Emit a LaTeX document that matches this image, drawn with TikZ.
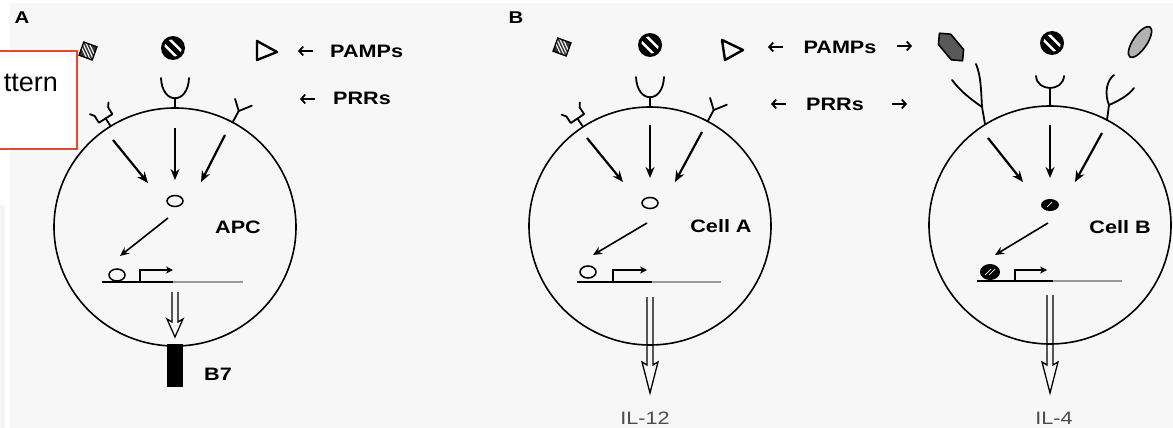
\documentclass[tikz,border=0pt]{standalone}
\usepackage{fontspec}
\setmainfont{Liberation Sans}
\newfontfamily\labfont[FakeStretch=1.2]{Liberation Sans}
\usetikzlibrary{arrows.meta}
\definecolor{bg}{HTML}{F7F7F7}
\definecolor{boxred}{HTML}{E8452C}

\tikzset{
  lab/.style={font=\labfont\bfseries\fontsize{18}{20}\selectfont, inner sep=0pt},
  letter/.style={font=\labfont\bfseries\fontsize{17}{19}\selectfont, inner sep=0pt},
  cyto/.style={font=\labfont\fontsize{18}{20}\selectfont, text=black!70, inner sep=0pt},
  pointer/.style={line width=1.8pt, -{Straight Barb[length=4pt,width=9pt]}},
  cellwall/.style={line width=1.6pt},
  sig/.style={line width=2.2pt, -{Stealth[length=11pt,width=9pt]}},
  sigthin/.style={line width=1.6pt, -{Stealth[length=9pt,width=8pt]}},
  receptor/.style={line width=1.8pt, line cap=round, line join=round},
  dna/.style={line width=2.2pt},
  tf/.style={line width=1.5pt, fill=bg},
  hollow/.style={line width=1.3pt, line join=miter},
  bent/.style={line width=1.6pt, -{Stealth[length=7pt,width=7pt]}},
  hatchsq/.pic={
    \fill[black!80] (-7,-7) rectangle (7,7);
    \begin{scope}
      \clip (-7,-7) rectangle (7,7);
      \foreach \k in {-6,-2,2,6} \draw[white, line width=1.1pt] (\k-10,-10) -- (\k+10,10);
    \end{scope}
    \draw[line width=1.3pt] (-7,-7) rectangle (7,7);
  },
  stripeball/.pic={
    \fill (0,0) circle (12pt);
    \begin{scope}
      \clip (0,0) circle (8.8pt);
      \draw[white, line width=2.4pt] (-11,-16.4) -- (16.4,11);
      \draw[white, line width=2.4pt] (-16.4,-11) -- (11,16.4);
    \end{scope}
  },
  rfork/.pic={
    \draw[receptor] (0,0) -- (0,-9);
    \draw[receptor] (-11,-21) -- (-8,-17) -- (-8,-9) -- (8,-9) -- (8,-17) -- (11,-21);
  },
  ry/.pic={
    \draw[receptor] (0,0) -- (0,-13) -- (-9,-22);
    \draw[receptor] (0,-13) -- (9,-24);
  },
  rcup/.pic={
    \draw[receptor] (0,0) -- (0,-10);
    \draw[receptor] (-14,-30) .. controls (-13,-3) and (13,-3) .. (14,-30);
  },
}

\begin{document}
\begin{tikzpicture}[x=1pt,y=-1pt]
\useasboundingbox (0,0) rectangle (1173,428);
% page and figure backgrounds
\fill[white] (0,0) rectangle (1173,428);
\fill[bg] (10,3) rectangle (1173,428);
\fill[black!4] (0,205) rectangle (5,428);

% callout box in the upper left corner
\draw[boxred, fill=white, line width=1.4pt] (-3,51) rectangle (77,149);
\node[anchor=base east, inner sep=0pt, font=\fontsize{27}{30}\selectfont] (note) at (58,92) {ttern};

% ================= Panel A =================
\node[letter] (labA) at (22,18) {A};
\pic[rotate=-20] at (88,51) {hatchsq};
\pic at (173,48) {stripeball};
\draw[line width=2.4pt, line join=round] (257,41) -- (257,60) -- (277,52) -- cycle;
\node[lab, anchor=west] (aPAMP) at (330,51) {PAMPs};
\coordinate (aPAMPt) at (313,51);
\draw[pointer] (aPAMPt) -- ++(-15,0) coordinate (aPAMPh);
\node[lab, anchor=west] (aPRR) at (333,98) {PRRs};
\coordinate (aPRRt) at (315,99);
\draw[pointer] (aPRRt) -- ++(-15,0) coordinate (aPRRh);

\begin{scope}[shift={(175,227)}]
  \coordinate (ac) at (0,0);
  \pic[rotate=32.5] at (-64.5,-101) {rfork};
  \pic at (0,-119) {rcup};
  \pic[rotate=-28.5] at (57.5,-104.5) {ry};
  % signalling
  \coordinate (a1s) at (-62,-87); \coordinate (a1e) at (-27,-44);
  \coordinate (a2s) at (0,-99);   \coordinate (a2e) at (0,-47);
  \coordinate (a3s) at (50,-92);  \coordinate (a3e) at (26,-45);
  \draw[sig] (a1s) -- (a1e);
  \draw[sig] (a2s) -- (a2e);
  \draw[sig] (a3s) -- (a3e);
  \coordinate (atf) at (0,-26);
  \draw[tf] (atf) ellipse [x radius=8pt, y radius=5.5pt];
  \coordinate (ats) at (-7,-9); \coordinate (ate) at (-55,29);
  \draw[sigthin] (ats) -- (ate);
  % gene
  \coordinate (ad1) at (-73,55); \coordinate (ad2) at (-2,55); \coordinate (ad3) at (68,55);
  \draw[dna] (ad1) -- (ad2);
  \draw[dna, black!40] (ad2) -- (ad3);
  \coordinate (adtf) at (-58,48);
  \draw[tf] (adtf) ellipse [x radius=8pt, y radius=6pt];
  \coordinate (ap1) at (-35,55); \coordinate (ap2) at (-35,43); \coordinate (ap3) at (-2,43);
  \draw[bent] (ap1) -- (ap2) -- (ap3);
  % expression
  \draw[hollow] (-3,65) -- (-3,95) -- (-8,92) -- (0,110) -- (8,92) -- (3,95) -- (3,65);
  \draw[cellwall] (ac) ellipse [x radius=121pt, y radius=119pt];
  \fill (-8,117) rectangle (8,160);
\end{scope}
\node[lab] (apc) at (238,227) {APC};
\node[lab, anchor=west] (b7) at (204,374) {B7};

% ================= Panel B =================
\node[letter] (labB) at (516,18) {B};
\node[lab] (bPAMP) at (840,47) {PAMPs};
\coordinate (bPAMPlt) at (783,47);
\draw[pointer] (bPAMPlt) -- ++(-15,0) coordinate (bPAMPlh);
\coordinate (bPAMPrt) at (897,46);
\draw[pointer] (bPAMPrt) -- ++(15,0) coordinate (bPAMPrh);
\node[lab] (bPRR) at (835,104) {PRRs};
\coordinate (bPRRlt) at (786,104);
\draw[pointer] (bPRRlt) -- ++(-15,0) coordinate (bPRRlh);
\coordinate (bPRRrt) at (892,104);
\draw[pointer] (bPRRrt) -- ++(15,0) coordinate (bPRRrh);

% ---- Cell A ----
\pic[rotate=-20] at (562,47) {hatchsq};
\pic at (650,45) {stripeball};
\draw[line width=2.4pt, line join=round] (722,40) -- (725,60) -- (743,50) -- cycle;

\begin{scope}[shift={(650,226)}]
  \coordinate (cc) at (0,0);
  \pic[rotate=34] at (-67.5,-100) {rfork};
  \pic at (0,-119) {rcup};
  \pic[rotate=-28.5] at (57.5,-104.5) {ry};
  \coordinate (c1s) at (-63,-88); \coordinate (c1e) at (-27,-44);
  \coordinate (c2s) at (0,-101);  \coordinate (c2e) at (0,-48);
  \coordinate (c3s) at (52,-94);  \coordinate (c3e) at (25,-44);
  \draw[sig] (c1s) -- (c1e);
  \draw[sig] (c2s) -- (c2e);
  \draw[sig] (c3s) -- (c3e);
  \coordinate (ctf) at (0,-23);
  \draw[tf] (ctf) ellipse [x radius=8pt, y radius=5.5pt];
  \coordinate (cts) at (-3,-3); \coordinate (cte) at (-57,29);
  \draw[sigthin] (cts) -- (cte);
  \coordinate (cd1) at (-73,56); \coordinate (cd2) at (2,56); \coordinate (cd3) at (71,56);
  \draw[dna] (cd1) -- (cd2);
  \draw[dna, black!40] (cd2) -- (cd3);
  \coordinate (cdtf) at (-62,46);
  \draw[tf] (cdtf) ellipse [x radius=8pt, y radius=6pt];
  \coordinate (cp1) at (-37,56); \coordinate (cp2) at (-37,44); \coordinate (cp3) at (-3,44);
  \draw[bent] (cp1) -- (cp2) -- (cp3);
  \draw[hollow] (-3,71) -- (-3,139) -- (-8,136) -- (0,167) -- (8,136) -- (3,139) -- (3,71);
  \draw[cellwall] (cc) ellipse [x radius=121pt, y radius=119pt];
\end{scope}
\node[lab] (cellA) at (721,226) {Cell A};
\node[cyto] (il12) at (645,418) {IL-12};

% ---- Cell B ----
\begin{scope}[shift={(951,47)}, rotate=-50]
  \filldraw[fill=black!65, line width=1.6pt, line join=round]
    (-18,0) -- (-10,-8) -- (10,-8) -- (18,0) -- (10,8) -- (-10,8) -- cycle;
\end{scope}
\pic at (1052,43) {stripeball};
\begin{scope}[shift={(1140,42)}, rotate=56]
  \filldraw[fill=black!30, line width=1.6pt] (0,0) ellipse [x radius=18pt, y radius=7pt];
\end{scope}

\draw[receptor] (985,124) -- (982,107);
\draw[receptor] (982,107) .. controls (981,90) and (981,76) .. (976,64);
\draw[receptor] (982,107) .. controls (972,100) and (961,92) .. (952,80);
\draw[receptor] (1050,106) -- (1050,89);
\draw[receptor] (1036,76) .. controls (1037,92) and (1063,92) .. (1064,76);
\draw[receptor] (1107,120) -- (1109,105);
\draw[receptor] (1109,105) .. controls (1104,93) and (1107,80) .. (1114,75);
\draw[receptor] (1109,105) .. controls (1118,101) and (1128,96) .. (1134,88);

\begin{scope}[shift={(1050,225)}]
  \coordinate (bc) at (0,0);
  \coordinate (b1s) at (-62,-87); \coordinate (b1e) at (-27,-43);
  \coordinate (b2s) at (0,-100);  \coordinate (b2e) at (0,-47);
  \coordinate (b3s) at (52,-92);  \coordinate (b3e) at (25,-43);
  \draw[sig] (b1s) -- (b1e);
  \draw[sig] (b2s) -- (b2e);
  \draw[sig] (b3s) -- (b3e);
  \coordinate (btf) at (0,-20);
  \fill (btf) ellipse [x radius=9pt, y radius=6pt];
  \draw[white, line width=0.7pt] (-3,-18) -- (2,-23);
  \coordinate (bts) at (-2,-2); \coordinate (bte) at (-55,30);
  \draw[sigthin] (bts) -- (bte);
  \coordinate (bd1) at (-73,56); \coordinate (bd2) at (3,56); \coordinate (bd3) at (72,56);
  \draw[dna] (bd1) -- (bd2);
  \draw[dna, black!40] (bd2) -- (bd3);
  \coordinate (bdtf) at (-60,47);
  \fill (bdtf) ellipse [x radius=10pt, y radius=8pt];
  \draw[white, line width=0.7pt] (-65,50) -- (-59,44);
  \draw[white, line width=0.7pt] (-61,50) -- (-55,44);
  \coordinate (bp1) at (-35,56); \coordinate (bp2) at (-35,45); \coordinate (bp3) at (-3,45);
  \draw[bent] (bp1) -- (bp2) -- (bp3);
  \draw[hollow] (-3,70) -- (-3,140) -- (-8,137) -- (0,168) -- (8,137) -- (3,140) -- (3,70);
  \draw[cellwall] (bc) ellipse [x radius=121pt, y radius=119pt];
\end{scope}
\node[lab] (cellB) at (1120,227) {Cell B};
\node[cyto] (il4) at (1054,418) {IL-4};
\end{tikzpicture}
\end{document}
